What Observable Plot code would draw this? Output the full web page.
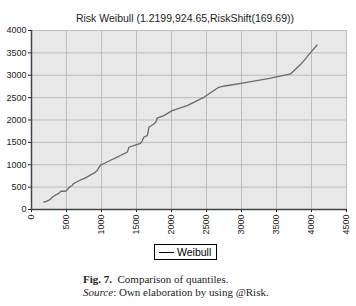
<!DOCTYPE html>
<html><head><meta charset="utf-8">
<script src="https://cdn.jsdelivr.net/npm/d3@7"></script>
<script src="https://cdn.jsdelivr.net/npm/@observablehq/plot@0.6"></script>
<style>
body{margin:0;background:#fff;}
#wrap{position:relative;width:356px;height:306px;font-family:"Liberation Sans",Arial,sans-serif;}
#title{position:absolute;left:0;width:370px;top:12px;text-align:center;font-size:10.5px;color:#222;}
#chart{position:absolute;left:0;top:0;}
#legend{position:absolute;left:154px;top:244px;width:61px;height:14px;border:1px solid #000;font-size:10.5px;line-height:14px;}
#legend span.l{position:absolute;left:4px;top:7px;width:15px;border-top:1px solid #000;}
#legend span.t{position:absolute;left:22px;top:0;}
#cap{position:absolute;left:83px;top:273px;font-family:"Liberation Serif","DejaVu Serif",serif;font-size:11px;line-height:13px;color:#222;}
</style></head>
<body><div id="wrap">
<div id="chart"></div>
<div id="title">Risk Weibull (1.2199,924.65,RiskShift(169.69))</div>
<div id="legend"><span class="l"></span><span class="t">Weibull</span></div>
<div id="cap"><b>Fig. 7.</b>&nbsp; Comparison of quantiles.<br><i>Source</i>: Own elaboration by using @Risk.</div>
</div>
<script>
const xValues = [176, 210, 250, 271, 300, 340, 390, 420, 486, 500, 540, 581, 600, 653, 700, 750, 796, 850, 900, 939, 960, 986, 1050, 1129, 1224, 1300, 1367, 1380, 1390, 1450, 1557, 1580, 1604, 1653, 1665, 1676, 1747, 1780, 1795, 1890, 2010, 2224, 2462, 2676, 2760, 3033, 3400, 3700, 3850, 4010, 4081];
const yValues = [163, 180, 210, 230, 280, 320, 360, 408, 408, 420, 500, 536, 580, 620, 660, 690, 730, 780, 820, 870, 930, 990, 1040, 1100, 1170, 1230, 1279, 1330, 1391, 1420, 1480, 1530, 1614, 1652, 1720, 1837, 1912, 1960, 2040, 2098, 2210, 2321, 2507, 2730, 2760, 2830, 2930, 3030, 3250, 3549, 3676];
const xTicks = [0, 500, 1000, 1500, 2000, 2500, 3000, 3500, 4000, 4500];
const yTicks = [0, 500, 1000, 1500, 2000, 2500, 3000, 3500, 4000];
const seriesName = "Weibull";
const data = xValues.map((x, i) => ({x, y: yValues[i], s: seriesName}));
const fmt = d3.format("d");
const chart = Plot.plot({
  width: 356, height: 240,
  marginLeft: 31, marginRight: 10, marginTop: 30, marginBottom: 31,
  style: {fontFamily: "Liberation Sans, Arial, sans-serif", fontSize: "9px", color: "#222"},
  x: {domain: [0, 4500], ticks: xTicks},
  y: {domain: [0, 4000], ticks: yTicks},
  marks: [
    Plot.frame({fill: "#e8e8e8", stroke: null}),
    Plot.gridX(xTicks, {stroke: "#bdbdbd", strokeOpacity: 1}),
    Plot.gridY(yTicks, {stroke: "#bdbdbd", strokeOpacity: 1}),
    Plot.axisY(yTicks, {tickSize: 3, tickPadding: 2, fontSize: 9, tickFormat: fmt, label: null}),
    Plot.axisX(xTicks, {tickSize: 3, tickRotate: -90, tickPadding: 2, fontSize: 9, tickFormat: fmt, label: null}),
    Plot.ruleX([0], {stroke: "#444", strokeWidth: 1.5}),
    Plot.ruleY([0], {stroke: "#444", strokeWidth: 1.5}),
    Plot.line(data, {x: "x", y: "y", stroke: "#6a6a6a", strokeWidth: 1.3})
  ]
});
document.getElementById("chart").appendChild(chart);
</script>
</body></html>
